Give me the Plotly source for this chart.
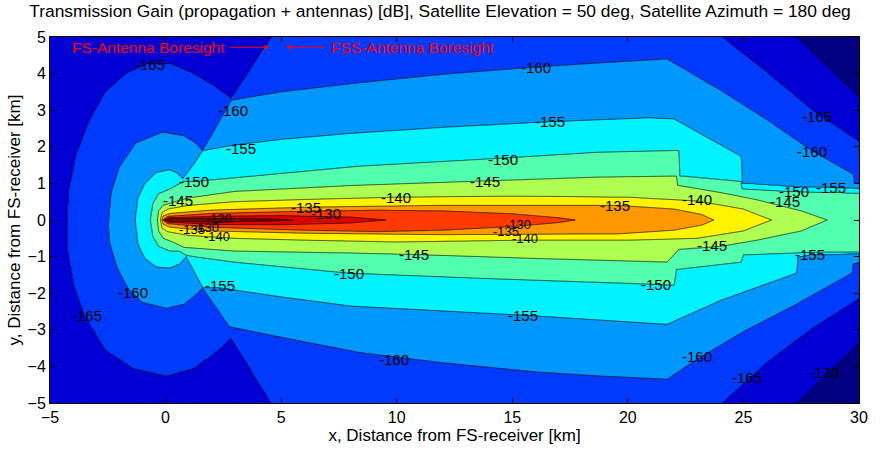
import numpy as np
import plotly.graph_objects as go

# ---------------- data ----------------
LEVELS = [-170, -165, -160, -155, -150, -145, -140, -135, -130, -125, -120]

# each contour line: upper branch (y >= 0) and lower branch (y <= 0), knots (x km, y km)
UP_170 = [(20, 7.0), (27.3, 5.0), (30, 3.35)]
LO_170 = [(20, -7.0), (27.3, -5.0), (30, -3.35)]

UP_165 = [(-4.25, 0), (-4.15, 0.9), (-3.85, 1.8), (-3.3, 2.7), (-2.6, 3.5), (-1.7, 4.0), (-0.7, 4.28),
          (0.3, 4.25), (1.2, 4.0), (2.0, 3.7), (2.84, 3.32), (3.4, 3.85), (4.0, 4.45), (4.6, 5.0),
          (5.5, 5.8), (22, 5.8), (24.1, 5.0), (26, 4.05), (28, 3.0), (30, 2.15)]
LO_165 = [(-4.25, 0), (-4.2, -0.9), (-3.95, -1.8), (-3.5, -2.6), (-2.6, -3.55), (-1.4, -4.05), (0.04, -4.26),
          (1.2, -4.05), (2.2, -3.6), (2.84, -3.22), (3.7, -4.1), (4.57, -5.0), (5.5, -5.8), (22, -5.8),
          (24.1, -5.0), (26, -3.9), (28, -2.95), (30, -2.15)]

UP_160 = [(-2.45, 0), (-2.35, 0.75), (-2.0, 1.45), (-1.3, 2.1), (-0.13, 2.4), (0.8, 2.3), (1.3, 2.1),
          (1.6, 1.88), (2.2, 2.55), (2.84, 3.28), (5, 3.5), (8.4, 3.75), (12, 3.98), (16, 4.18),
          (18.7, 4.29), (21.7, 4.4), (24, 3.55), (26, 2.75), (28, 1.88), (29.75, 1.25), (29.8, 1.0), (30, 0.98)]
LO_160 = [(-2.5, 0), (-2.4, -0.65), (-2.1, -1.3), (-1.6, -1.9), (-1.0, -2.25), (0.04, -2.41), (0.8, -2.3),
          (1.3, -2.05), (1.6, -1.85), (2.2, -2.4), (2.76, -2.92), (5, -3.2), (8.4, -3.62), (12, -3.9),
          (16, -4.15), (18.7, -4.26), (21.7, -4.35), (23, -3.8), (25, -3.05), (27.3, -2.3), (29.7, -1.45),
          (29.75, -1.2), (30, -1.15)]

UP_155 = [(-1.3, 0), (-1.2, 0.6), (-0.9, 1.0), (-0.4, 1.3), (0.17, 1.37), (0.5, 1.28), (0.75, 1.12),
          (1.2, 1.5), (1.6, 1.9), (3, 2.05), (5, 2.2), (7.9, 2.36), (12, 2.53), (16.5, 2.68), (20.9, 2.79),
          (22, 2.76), (24.9, 1.74), (24.95, 1.0), (27.3, 0.9), (28.8, 0.88), (30, 0.86)]
LO_155 = [(-1.3, 0), (-1.2, -0.65), (-0.9, -1.05), (-0.4, -1.28), (0.17, -1.31), (0.6, -1.2), (0.9, -1.0),
          (1.25, -1.42), (1.6, -1.85), (2.3, -1.85), (5, -2.1), (8, -2.35), (15.5, -2.6), (21.7, -2.85),
          (24, -2.2), (27.3, -1.45), (27.35, -1.0), (28, -0.94), (30, -0.92)]

UP_150 = [(-0.65, 0), (-0.55, 0.45), (-0.3, 0.72), (0.2, 0.85), (0.75, 1.05), (1.25, 1.05), (3, 1.15),
          (8.4, 1.47), (14.6, 1.69), (18.7, 1.85), (22.2, 1.9), (22.25, 1.2), (24.9, 1.05), (24.95, 0.85),
          (27, 0.78), (30, 0.74)]
LO_150 = [(-0.65, 0), (-0.55, -0.45), (-0.3, -0.72), (0.2, -0.85), (0.6, -0.85), (0.9, -0.97), (3, -1.15),
          (7.9, -1.45), (14, -1.6), (20.9, -1.75), (22, -1.78), (22.1, -1.35), (24.9, -1.15), (25, -0.95),
          (27.3, -0.9), (30, -0.88)]

UP_145 = [(-0.35, 0), (-0.3, 0.25), (-0.1, 0.4), (0.3, 0.48), (1, 0.6), (3, 0.78), (8, 0.94), (14, 1.07),
          (18.7, 1.17), (22.1, 1.2), (22.15, 0.95), (24, 0.75), (25.6, 0.55), (27.5, 0.25), (28.6, 0)]
LO_145 = [(-0.35, 0), (-0.3, -0.3), (-0.1, -0.5), (0.3, -0.6), (0.8, -0.75), (3, -0.85), (8, -0.9),
          (10.7, -0.94), (16, -1.05), (21.7, -1.15), (22.2, -0.8), (24, -0.72), (25.6, -0.55), (27.5, -0.3),
          (28.6, 0)]

UP_140 = [(-0.22, 0), (-0.15, 0.2), (0.1, 0.3), (1, 0.4), (3, 0.5), (6, 0.56), (9.9, 0.62), (15, 0.65),
          (20, 0.62), (23, 0.52), (25, 0.3), (26.2, 0)]
LO_140 = [(-0.22, 0), (-0.15, -0.22), (0.1, -0.32), (1, -0.42), (3, -0.5), (6, -0.55), (10, -0.6),
          (15.5, -0.55), (20, -0.55), (23, -0.5), (25, -0.3), (26.2, 0)]

UP_135 = [(-0.15, 0), (-0.1, 0.12), (0.2, 0.18), (2, 0.27), (6.2, 0.35), (12, 0.4), (19.6, 0.4), (22, 0.3),
          (23.2, 0.15), (23.7, 0)]
LO_135 = [(-0.15, 0), (-0.1, -0.12), (0.2, -0.2), (2, -0.3), (6, -0.36), (12, -0.4), (19.6, -0.38),
          (22, -0.28), (23.2, -0.14), (23.7, 0)]

UP_130 = [(-0.1, 0), (0.1, 0.1), (2, 0.18), (6, 0.24), (9.2, 0.27), (12, 0.25), (15, 0.17), (17, 0.06), (17.7, 0)]
LO_130 = [(-0.1, 0), (0.1, -0.1), (2, -0.2), (6, -0.28), (9.2, -0.32), (12, -0.28), (15, -0.18), (17, -0.07),
          (17.7, 0)]

UP_125 = [(-0.06, 0), (0.1, 0.06), (2, 0.1), (5, 0.12), (8, 0.08), (9.5, 0)]
LO_125 = [(-0.06, 0), (0.1, -0.06), (2, -0.12), (5, -0.13), (8, -0.08), (9.5, 0)]

UP_120 = [(-0.03, 0), (0.2, 0.04), (2, 0.05), (4.5, 0.03), (5.5, 0)]
LO_120 = [(-0.03, 0), (0.2, -0.04), (2, -0.05), (4.5, -0.03), (5.5, 0)]

UPPER = [UP_170, UP_165, UP_160, UP_155, UP_150, UP_145, UP_140, UP_135, UP_130, UP_125, UP_120]
LOWER = [LO_170, LO_165, LO_160, LO_155, LO_150, LO_145, LO_140, LO_135, LO_130, LO_125, LO_120]

# contour-label texts and where they sit (km); the last six sit in the crowded core
LABEL_TEXT = ['-165', '-160', '-155', '-150', '-145', '-160', '-155', '-150', '-145', '-140', '-135', '-130',
              '-135', '-140', '-145', '-150', '-155', '-160', '-165',
              '-160', '-165', '-155', '-150', '-145', '-155', '-160', '-150', '-145', '-155', '-160', '-165',
              '-170',
              '-120', '-130', '-135', '-140', '-130', '-135', '-140']
LABEL_X = [-0.69, 2.9, 3.28, 1.25, 0.52, 16.03, 16.64, 14.6, 13.84, 9.96, 6.08, 6.94,
           19.44, 23.0, 26.8, 27.2, 28.8, 27.97, 28.2,
           -1.42, -3.4, 2.37, 7.93, 10.73, 15.47, 9.87, 21.2, 23.66, 27.9, 23.0, 25.17,
           28.5,
           2.3, 1.75, 1.15, 2.24, 15.26, 14.74, 15.56]
LABEL_Y = [4.24, 2.98, 1.96, 1.04, 0.54, 4.18, 2.68, 1.66, 1.05, 0.62, 0.35, 0.19,
           0.4, 0.56, 0.5, 0.78, 0.9, 1.88, 2.82,
           -1.98, -2.6, -1.8, -1.45, -0.94, -2.6, -3.81, -1.75, -0.7, -0.94, -3.73, -4.29,
           -4.16,
           0.03, -0.2, -0.27, -0.45, -0.13, -0.32, -0.5]
N_CORE_LABELS = 7

BAND_COLORS = ['#000080', '#0000D4', '#003AFF', '#0097FF', '#00F3FF', '#51FFAE',
               '#AEFF51', '#FFF300', '#FF9700', '#FF3A00', '#DC0000', '#800000']

X_TICKS = [-5, 0, 5, 10, 15, 20, 25, 30]
Y_TICKS = [-5, -4, -3, -2, -1, 0, 1, 2, 3, 4, 5]

TITLE = ('Transmission Gain (propagation + antennas) [dB], Satellite Elevation = 50 deg, '
         'Satellite Azimuth = 180 deg')

# ---------------- build the gain grid from the contour lines ----------------
xg = np.round(np.arange(-5, 30.0001, 0.05), 4)
yg = np.unique(np.round(np.concatenate([np.arange(-5, -0.6, 0.025), np.arange(-0.6, 0.6, 0.01),
                                        np.arange(0.6, 5.0001, 0.025)]), 4))


def branch(knots, x):
    kx = np.array([k[0] for k in knots], float)
    ky = np.array([k[1] for k in knots], float)
    return np.interp(x, kx, ky, left=np.nan, right=np.nan)


UPV = np.array([branch(k, xg) for k in UPPER])
LOV = np.array([branch(k, xg) for k in LOWER])
nL = len(LEVELS)
Z = np.empty((len(yg), len(xg)))
eps = 0.004
for j in range(len(xg)):
    pres = [i for i in range(nL) if not np.isnan(UPV[i, j]) and not np.isnan(LOV[i, j])]
    if not pres:
        Z[:, j] = LEVELS[1] - 2.5
        continue
    u = [UPV[i, j] for i in pres]
    lo = [LOV[i, j] for i in pres]
    mid = 0.5 * (u[-1] + lo[-1])
    u[-1] = max(u[-1], mid + eps)
    lo[-1] = min(lo[-1], mid - eps)
    for k in range(len(pres) - 2, -1, -1):
        u[k] = max(u[k], u[k + 1] + eps)
        lo[k] = min(lo[k], lo[k + 1] - eps)
    lv = [LEVELS[i] for i in pres]
    ys = [-100.0] + lo + [mid] + u[::-1] + [100.0]
    zs = [lv[0] - 4.9] + lv + [lv[-1] + 2.5] + lv[::-1] + [lv[0] - 4.9]
    Z[:, j] = np.interp(yg, ys, zs)

Z = np.round(Z, 3)

# stepped colour scale, one colour per band
n = len(BAND_COLORS)
cscale = []
for k, c in enumerate(BAND_COLORS):
    a = 0 if k == 0 else (k - 0.5) / (n - 1)
    b = 1 if k == n - 1 else (k + 0.5) / (n - 1)
    cscale.append([a, c])
    cscale.append([b, c])

font = 'Liberation Sans, Arial, sans-serif'

fig = go.Figure(go.Contour(
    x=xg, y=yg, z=Z,
    colorscale=cscale, showscale=False,
    contours=dict(start=LEVELS[0], end=LEVELS[-1], size=5, coloring='fill', showlabels=False),
    line=dict(color='black', width=0.7, smoothing=0),
    hoverinfo='skip',
))

n_lab = len(LABEL_TEXT)
for i, (t, lx, ly) in enumerate(zip(LABEL_TEXT, LABEL_X, LABEL_Y)):
    size = 13 if i >= n_lab - N_CORE_LABELS else 15
    fig.add_annotation(x=lx, y=ly, xref='x', yref='y', text=t, showarrow=False, borderpad=0,
                       font=dict(size=size, color='black', family=font))

fig.add_annotation(x=4.48, y=4.72, ax=2.67, ay=4.72, xref='x', yref='y', axref='x', ayref='y',
                   text='', showarrow=True, arrowhead=2, arrowsize=1, arrowwidth=1, arrowcolor='red')
fig.add_annotation(x=2.67, y=4.72, xref='x', yref='y', text='FS-Antenna Boresight', showarrow=False,
                   xanchor='right', yanchor='middle', font=dict(color='red', size=15.5, family=font))
fig.add_annotation(x=5.22, y=4.72, ax=6.98, ay=4.72, xref='x', yref='y', axref='x', ayref='y',
                   text='', showarrow=True, arrowhead=2, arrowsize=1, arrowwidth=1, arrowcolor='red')
fig.add_annotation(x=7.05, y=4.72, xref='x', yref='y', text='FSS-Antenna Boresight', showarrow=False,
                   xanchor='left', yanchor='middle', font=dict(color='red', size=15.5, family=font))

axis_common = dict(showline=True, linecolor='black', linewidth=1, mirror='allticks', ticks='inside',
                   ticklen=5, tickcolor='black', showgrid=False, zeroline=False,
                   tickfont=dict(size=16, color='black', family=font))
fig.update_xaxes(range=[-5, 30], tickvals=X_TICKS,
                 title=dict(text='x, Distance from FS-receiver [km]', standoff=0,
                            font=dict(size=17, color='black', family=font)), **axis_common)
fig.update_yaxes(range=[-5, 5], tickvals=Y_TICKS,
                 title=dict(text='y, Distance from FS-receiver [km]', standoff=2,
                            font=dict(size=17, color='black', family=font)), **axis_common)
fig.update_layout(
    width=880, height=450, margin=dict(l=50, r=18, t=37, b=40),
    paper_bgcolor='white', plot_bgcolor='white',
    title=dict(text=TITLE, x=0.5, xanchor='center', y=0.975, yanchor='middle',
               font=dict(size=17.4, color='black', family=font)),
    showlegend=False,
)
fig.write_html('out.html')
